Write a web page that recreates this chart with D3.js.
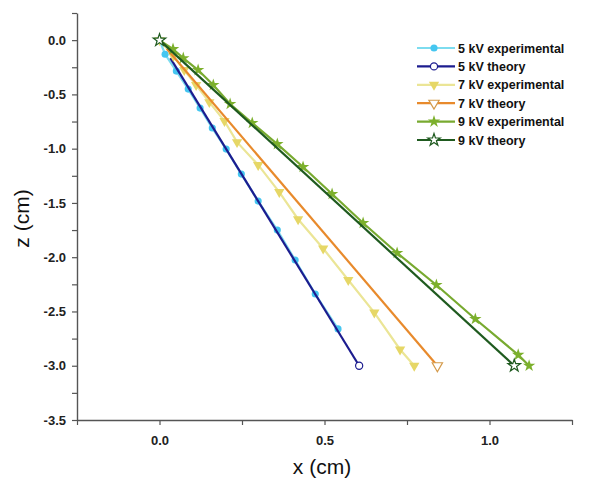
<!DOCTYPE html>
<html>
<head>
<meta charset="utf-8">
<script src="https://cdn.jsdelivr.net/npm/d3@7/dist/d3.min.js"></script>
<style>
  html, body { margin: 0; padding: 0; background: #fff; }
  svg { display: block; font-family: "Liberation Sans", Arial, sans-serif; }
</style>
</head>
<body>
<svg id="chart" width="589" height="481"></svg>
<script>
// Jet trajectories: horizontal deflection x vs. depth z for three voltages
const xTicks = [0.0, 0.5, 1.0];
const zTicks = [0.0, -0.5, -1.0, -1.5, -2.0, -2.5, -3.0, -3.5];

const exp5kV_x = [0, 0.017, 0.051, 0.087, 0.123, 0.160, 0.202, 0.248, 0.299, 0.357, 0.411, 0.472, 0.541];
const exp5kV_z = [0, -0.13, -0.285, -0.451, -0.626, -0.81, -1.004, -1.234, -1.483, -1.75, -2.026, -2.339, -2.661];
const theo5kV_x = [0.033, 0.605];
const theo5kV_z = [-0.166, -3.0];

const exp7kV_x = [0, 0.042, 0.075, 0.111, 0.151, 0.197, 0.235, 0.299, 0.363, 0.420, 0.496, 0.572, 0.651, 0.729, 0.772];
const exp7kV_z = [0, -0.147, -0.276, -0.414, -0.571, -0.746, -0.94, -1.15, -1.40, -1.65, -1.92, -2.21, -2.51, -2.85, -3.0];
const theo7kV_x = [0.022, 0.842];
const theo7kV_z = [-0.08, -3.0];

const exp9kV_x = [0, 0.041, 0.072, 0.117, 0.163, 0.214, 0.281, 0.357, 0.435, 0.523, 0.617, 0.720, 0.839, 0.957, 1.087, 1.12];
const exp9kV_z = [0, -0.083, -0.166, -0.276, -0.414, -0.589, -0.764, -0.958, -1.169, -1.418, -1.685, -1.961, -2.256, -2.569, -2.90, -3.0];
const theo9kV_x = [0, 1.075];
const theo9kV_z = [0, -3.0];

const seriesNames = ["5 kV experimental", "5 kV theory", "7 kV experimental", "7 kV theory", "9 kV experimental", "9 kV theory"];

const zip = (xs, zs) => xs.map((x, i) => ({ x, z: zs[i] }));

// Drawing style for each series, in legend order
const series = [
  { name: seriesNames[0], pts: zip(exp5kV_x, exp5kV_z), line: "#7ddcef", sym: d3.symbolCircle, size: 40, fill: "#45c6f0", stroke: "none", rot: 0, marks: "all" },
  { name: seriesNames[1], pts: zip(theo5kV_x, theo5kV_z), line: "#1c1c8f", sym: d3.symbolCircle, size: 40, fill: "#fff", stroke: "#1c1c8f", rot: 0, marks: "last" },
  { name: seriesNames[2], pts: zip(exp7kV_x, exp7kV_z), line: "#ebe596", sym: d3.symbolTriangle, size: 46, fill: "#e6d766", stroke: "none", rot: 180, marks: "all" },
  { name: seriesNames[3], pts: zip(theo7kV_x, theo7kV_z), line: "#e88a2c", sym: d3.symbolTriangle, size: 46, fill: "#fff", stroke: "#d49a4a", rot: 180, marks: "last" },
  { name: seriesNames[4], pts: zip(exp9kV_x, exp9kV_z), line: "#78aa30", sym: d3.symbolStar, size: 48, fill: "#7cb02c", stroke: "none", rot: 0, marks: "all" },
  { name: seriesNames[5], pts: zip(theo9kV_x, theo9kV_z), line: "#1f5a1f", sym: d3.symbolStar, size: 48, fill: "#fff", stroke: "#1f5a1f", rot: 0, marks: "all" }
];

const svg = d3.select("#chart");
const plotLeft = 77, plotRight = 572, plotTop = 13, plotBottom = 420;

const x = d3.scaleLinear().domain([-0.25, 1.25]).range([plotLeft, plotRight]);
const y = d3.scaleLinear().domain([-3.5, 0.25]).range([plotBottom, plotTop]);

const axisColor = "#555";
const labelColor = "#222";
// One decimal, plain hyphen for negatives
const fmt = v => v.toFixed(1);

// Minor ticks every 0.25
const xMinor = d3.range(-0.25, 1.2501, 0.25);
const zMinor = d3.range(-3.5, 0.2501, 0.25);

svg.append("g").attr("transform", `translate(0,${plotBottom})`)
  .call(d3.axisBottom(x).tickValues(xMinor).tickSize(5).tickSizeOuter(0).tickFormat(""));
const xLabels = svg.append("g").attr("transform", `translate(0,${plotBottom})`)
  .call(d3.axisBottom(x).tickValues(xTicks).tickSize(0).tickPadding(16).tickFormat(fmt));
xLabels.select(".domain").remove();

svg.append("g").attr("transform", `translate(${plotLeft},0)`)
  .call(d3.axisLeft(y).tickValues(zMinor).tickSize(5).tickSizeOuter(0).tickFormat(""));
const yLabels = svg.append("g").attr("transform", `translate(${plotLeft},0)`)
  .call(d3.axisLeft(y).tickValues(zTicks).tickSize(0).tickPadding(11).tickFormat(fmt));
yLabels.select(".domain").remove();

svg.selectAll(".domain").attr("stroke", axisColor).attr("stroke-width", 1.4);
svg.selectAll(".tick line").attr("stroke", axisColor).attr("stroke-width", 1.2);
svg.selectAll(".tick text")
  .attr("fill", labelColor)
  .attr("font-size", 13)
  .attr("font-weight", "bold")
  .attr("font-family", "'Liberation Sans', Arial, sans-serif");

// Axis titles
svg.append("text")
  .attr("x", 322).attr("y", 474)
  .attr("text-anchor", "middle")
  .attr("font-size", 21)
  .attr("fill", "#111")
  .text("x (cm)");

svg.append("text")
  .attr("transform", `translate(29,${(plotTop + plotBottom) / 2 + 2}) rotate(-90)`)
  .attr("text-anchor", "middle")
  .attr("font-size", 21)
  .attr("fill", "#111")
  .text("z (cm)");

// Series lines and markers
const lineGen = d3.line().x(d => x(d.x)).y(d => y(d.z));
const plot = svg.append("g");

series.forEach(s => {
  plot.append("path")
    .datum(s.pts)
    .attr("d", lineGen)
    .attr("fill", "none")
    .attr("stroke", s.line)
    .attr("stroke-width", 2.2);

  const markPts = s.marks === "last" ? [s.pts[s.pts.length - 1]] : s.pts;
  plot.selectAll(null)
    .data(markPts)
    .join("path")
    .attr("d", d3.symbol().type(s.sym).size(s.size))
    .attr("transform", d => `translate(${x(d.x)},${y(d.z)}) rotate(${s.rot})`)
    .attr("fill", s.fill)
    .attr("stroke", s.stroke)
    .attr("stroke-width", 1.2);
});

// Legend
const legend = svg.append("g").attr("transform", "translate(417,48)");
series.forEach((s, i) => {
  const row = legend.append("g").attr("transform", `translate(0,${i * 18.4})`);
  row.append("line")
    .attr("x1", 0).attr("x2", 38).attr("y1", 0).attr("y2", 0)
    .attr("stroke", s.line).attr("stroke-width", 2.2);
  row.append("path")
    .attr("d", d3.symbol().type(s.sym).size(s.size))
    .attr("transform", `translate(17,0) rotate(${s.rot})`)
    .attr("fill", s.fill)
    .attr("stroke", s.stroke)
    .attr("stroke-width", 1.2);
  row.append("text")
    .attr("x", 41).attr("y", 0).attr("dy", "0.36em")
    .attr("font-size", 12.5)
    .attr("font-weight", "bold")
    .attr("fill", "#111")
    .text(s.name);
});
</script>
</body>
</html>
